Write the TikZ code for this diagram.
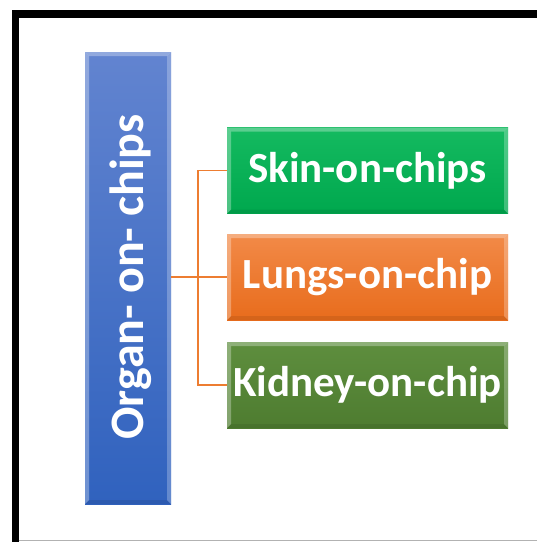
\documentclass[tikz,border=0pt]{standalone}
\usepackage{fontspec}
\setmainfont{Carlito}
\definecolor{bluetop}{RGB}{98,132,208}
\definecolor{bluebot}{RGB}{48,98,190}
\definecolor{greentop}{RGB}{20,186,96}
\definecolor{greenbot}{RGB}{0,168,78}
\definecolor{orangetop}{RGB}{242,138,72}
\definecolor{orangebot}{RGB}{232,108,28}
\definecolor{dgreentop}{RGB}{94,142,62}
\definecolor{dgreenbot}{RGB}{78,124,48}
\definecolor{linkcol}{RGB}{237,125,49}
\tikzset{
  bevel/.style={path picture={
    \fill[white,opacity=0.3] (path picture bounding box.north west) -- (path picture bounding box.north east)
      -- ([xshift=-4pt,yshift=-4pt]path picture bounding box.north east) -- ([xshift=4pt,yshift=-4pt]path picture bounding box.north west) -- cycle;
    \fill[white,opacity=0.3] (path picture bounding box.north west) -- (path picture bounding box.south west)
      -- ([xshift=4pt,yshift=4pt]path picture bounding box.south west) -- ([xshift=4pt,yshift=-4pt]path picture bounding box.north west) -- cycle;
    \fill[white,opacity=0.25] (path picture bounding box.north east) -- (path picture bounding box.south east)
      -- ([xshift=-4pt,yshift=4pt]path picture bounding box.south east) -- ([xshift=-4pt,yshift=-4pt]path picture bounding box.north east) -- cycle;
    \fill[black,opacity=0.08] (path picture bounding box.south west) -- (path picture bounding box.south east)
      -- ([xshift=-4pt,yshift=4pt]path picture bounding box.south east) -- ([xshift=4pt,yshift=4pt]path picture bounding box.south west) -- cycle;
  }},
  chipbox/.style={bevel, minimum width=281pt, minimum height=86pt, inner sep=0pt,
    text=white, font=\fontsize{43}{50}\selectfont\bfseries},
  link/.style={draw=linkcol, line width=1.5pt},
}
\begin{document}
\begin{tikzpicture}[x=1pt,y=-1pt]
\useasboundingbox (0,0) rectangle (537,542);
\fill[white] (0,0) rectangle (537,542);
% frame
\begin{scope}
\clip (0,0) rectangle (537,542);
\draw[line width=7.5pt] (15.5,14) rectangle (560,560);
\draw[gray!60, line width=0.8pt] (19,540.5) -- (537,540.5);
\end{scope}
% main box
\node[bevel, minimum width=86pt, minimum height=452pt, inner sep=0pt,
      top color=bluetop, bottom color=bluebot] (main) at (128,278) {};
\node[rotate=90, anchor=base, text=white, inner sep=0pt,
      font=\fontsize{48}{56}\selectfont\bfseries] (mainlabel) at (143,277) {Organ- on- chips};
% branch boxes
\node[chipbox, top color=greentop, bottom color=greenbot] (skin) at (367.5,170.5) {Skin-on-chips};
\node[chipbox, top color=orangetop, bottom color=orangebot] (lungs) at (367.5,277) {Lungs-on-chip};
\node[chipbox, top color=dgreentop, bottom color=dgreenbot] (kidney) at (367.5,385) {Kidney-on-chip};
% connectors
\coordinate (j) at (198,278);
\draw[link] (main.east |- lungs.west) -- (lungs.west);
\draw[link] (skin.west) -- (skin.west -| j) -- (kidney.west -| j) -- (kidney.west);
\end{tikzpicture}
\end{document}
